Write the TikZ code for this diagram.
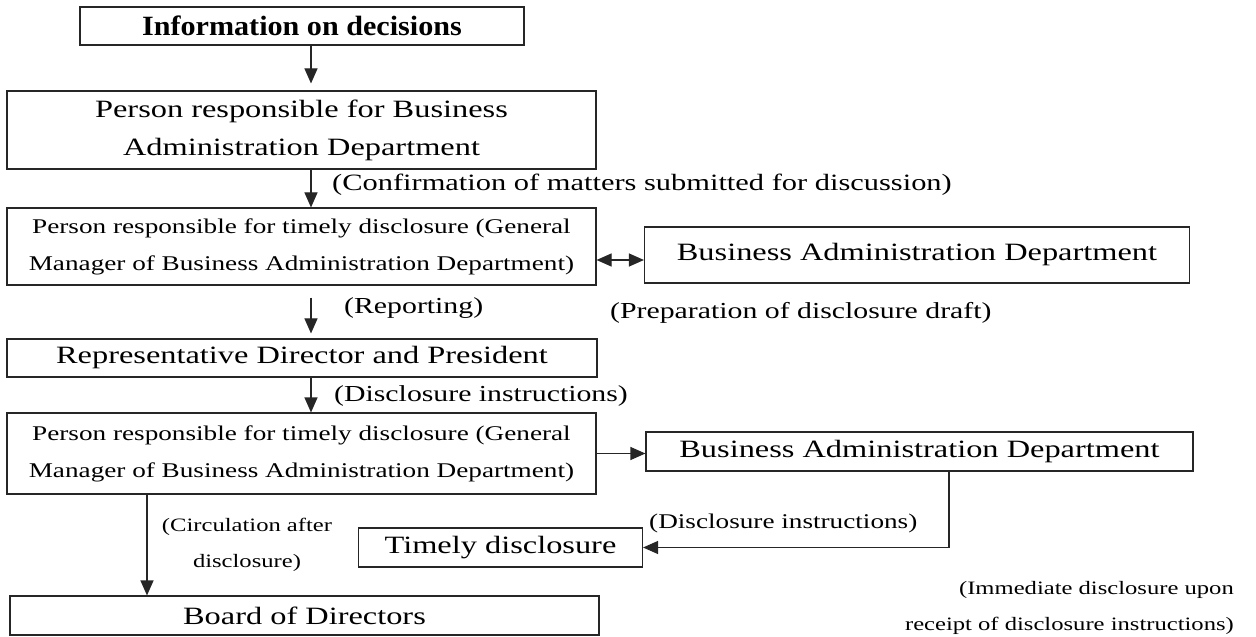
\documentclass[tikz,border=0pt]{standalone}
\usepackage{fontspec}
\setmainfont{Liberation Serif}[FakeStretch=1.3]
\newfontfamily\titlefont{Liberation Serif}[FakeStretch=1.08]
\usetikzlibrary{arrows.meta,calc}
\begin{document}
\begin{tikzpicture}[x=1bp,y=-1bp,
  box/.style={draw=black!85, line width=1.1bp, inner sep=0pt, align=center, anchor=center},
  arr/.style={draw=black!85, line width=1.1bp, -{Triangle[length=15bp,width=13bp]}},
  darr/.style={draw=black!85, line width=1.1bp, {Triangle[length=15bp,width=13bp]}-{Triangle[length=15bp,width=13bp]}},
  lbl/.style={inner sep=0pt, align=center},
  fM/.style={font=\fontsize{25}{38}\selectfont},
  fS/.style={font=\fontsize{21}{37}\selectfont},
  fL/.style={font=\fontsize{23}{30}\selectfont},
  fT/.style={font=\fontsize{19}{36}\selectfont}]
\useasboundingbox (0,0) rectangle (1256,637);

% boxes
\node[box, minimum width=444bp, minimum height=38bp, font=\titlefont\fontsize{28}{32}\selectfont\bfseries] (info) at (302,26) {Information on decisions};
\node[box, fM, minimum width=589bp, minimum height=78bp] (pb) at (301.5,130) {Person responsible for Business\\Administration Department};
\node[box, fS, minimum width=589bp, minimum height=77bp] (ptdA) at (301.5,246.5) {Person responsible for timely disclosure (General\\Manager of Business Administration Department)};
\node[box, fM, minimum width=545bp, minimum height=56bp] (badA) at (917,255) {Business Administration Department};
\node[box, fM, minimum width=590bp, minimum height=38bp] (rep) at (302,358) {Representative Director and President};
\node[box, fS, minimum width=589bp, minimum height=81bp] (ptdB) at (301.5,453.5) {Person responsible for timely disclosure (General\\Manager of Business Administration Department)};
\node[box, fM, minimum width=547bp, minimum height=39bp] (badB) at (919.5,451.5) {Business Administration Department};
\node[box, fM, minimum width=284bp, minimum height=39bp] (timely) at (500.5,547.5) {Timely disclosure};
\node[box, fM, minimum width=589bp, minimum height=39bp] (board) at (304.5,615.5) {Board of Directors};

% labels
\node[lbl, font=\fontsize{23.5}{30}\selectfont, anchor=west] (lconf) at (332,185) {(Confirmation of matters submitted for discussion)};
\node[lbl, fL, anchor=west] (lrep) at (344,308) {(Reporting)};
\node[lbl, fL, anchor=west] (lprep) at (610,313) {(Preparation of disclosure draft)};
\node[lbl, fL, anchor=west] (ldisA) at (334,396) {(Disclosure instructions)};
\node[lbl, fS, anchor=west] (ldisB) at (649,523) {(Disclosure instructions)};
\node[lbl, fT, anchor=center] (lcirc) at (247,545) {(Circulation after\\disclosure)};
\node[lbl, fT, align=right, anchor=east] (limm) at (1234,608) {(Immediate disclosure upon\\receipt of disclosure instructions)};

% connectors
\coordinate (colA) at (311,0);
\coordinate (colB) at (147,0);
\draw[arr, shorten >=7bp] (info.south -| colA) -- (pb.north -| colA);
\draw[arr] (pb.south -| colA) -- (ptdA.north -| colA);
\draw[arr, shorten <=12bp, shorten >=5bp] (ptdA.south -| colA) -- (rep.north -| colA);
\draw[arr] (rep.south -| colA) -- (ptdB.north -| colA);
\draw[darr] ([yshift=-5bp]badA.west -| ptdA.east) -- ([yshift=-5bp]badA.west);
\draw[arr] (ptdB.east) -- (ptdB.east -| badB.west);
\draw[arr] ([xshift=29.5bp]badB.south) |- (timely.east);
\draw[arr] (ptdB.south -| colB) -- (board.north -| colB);
\end{tikzpicture}
\end{document}
